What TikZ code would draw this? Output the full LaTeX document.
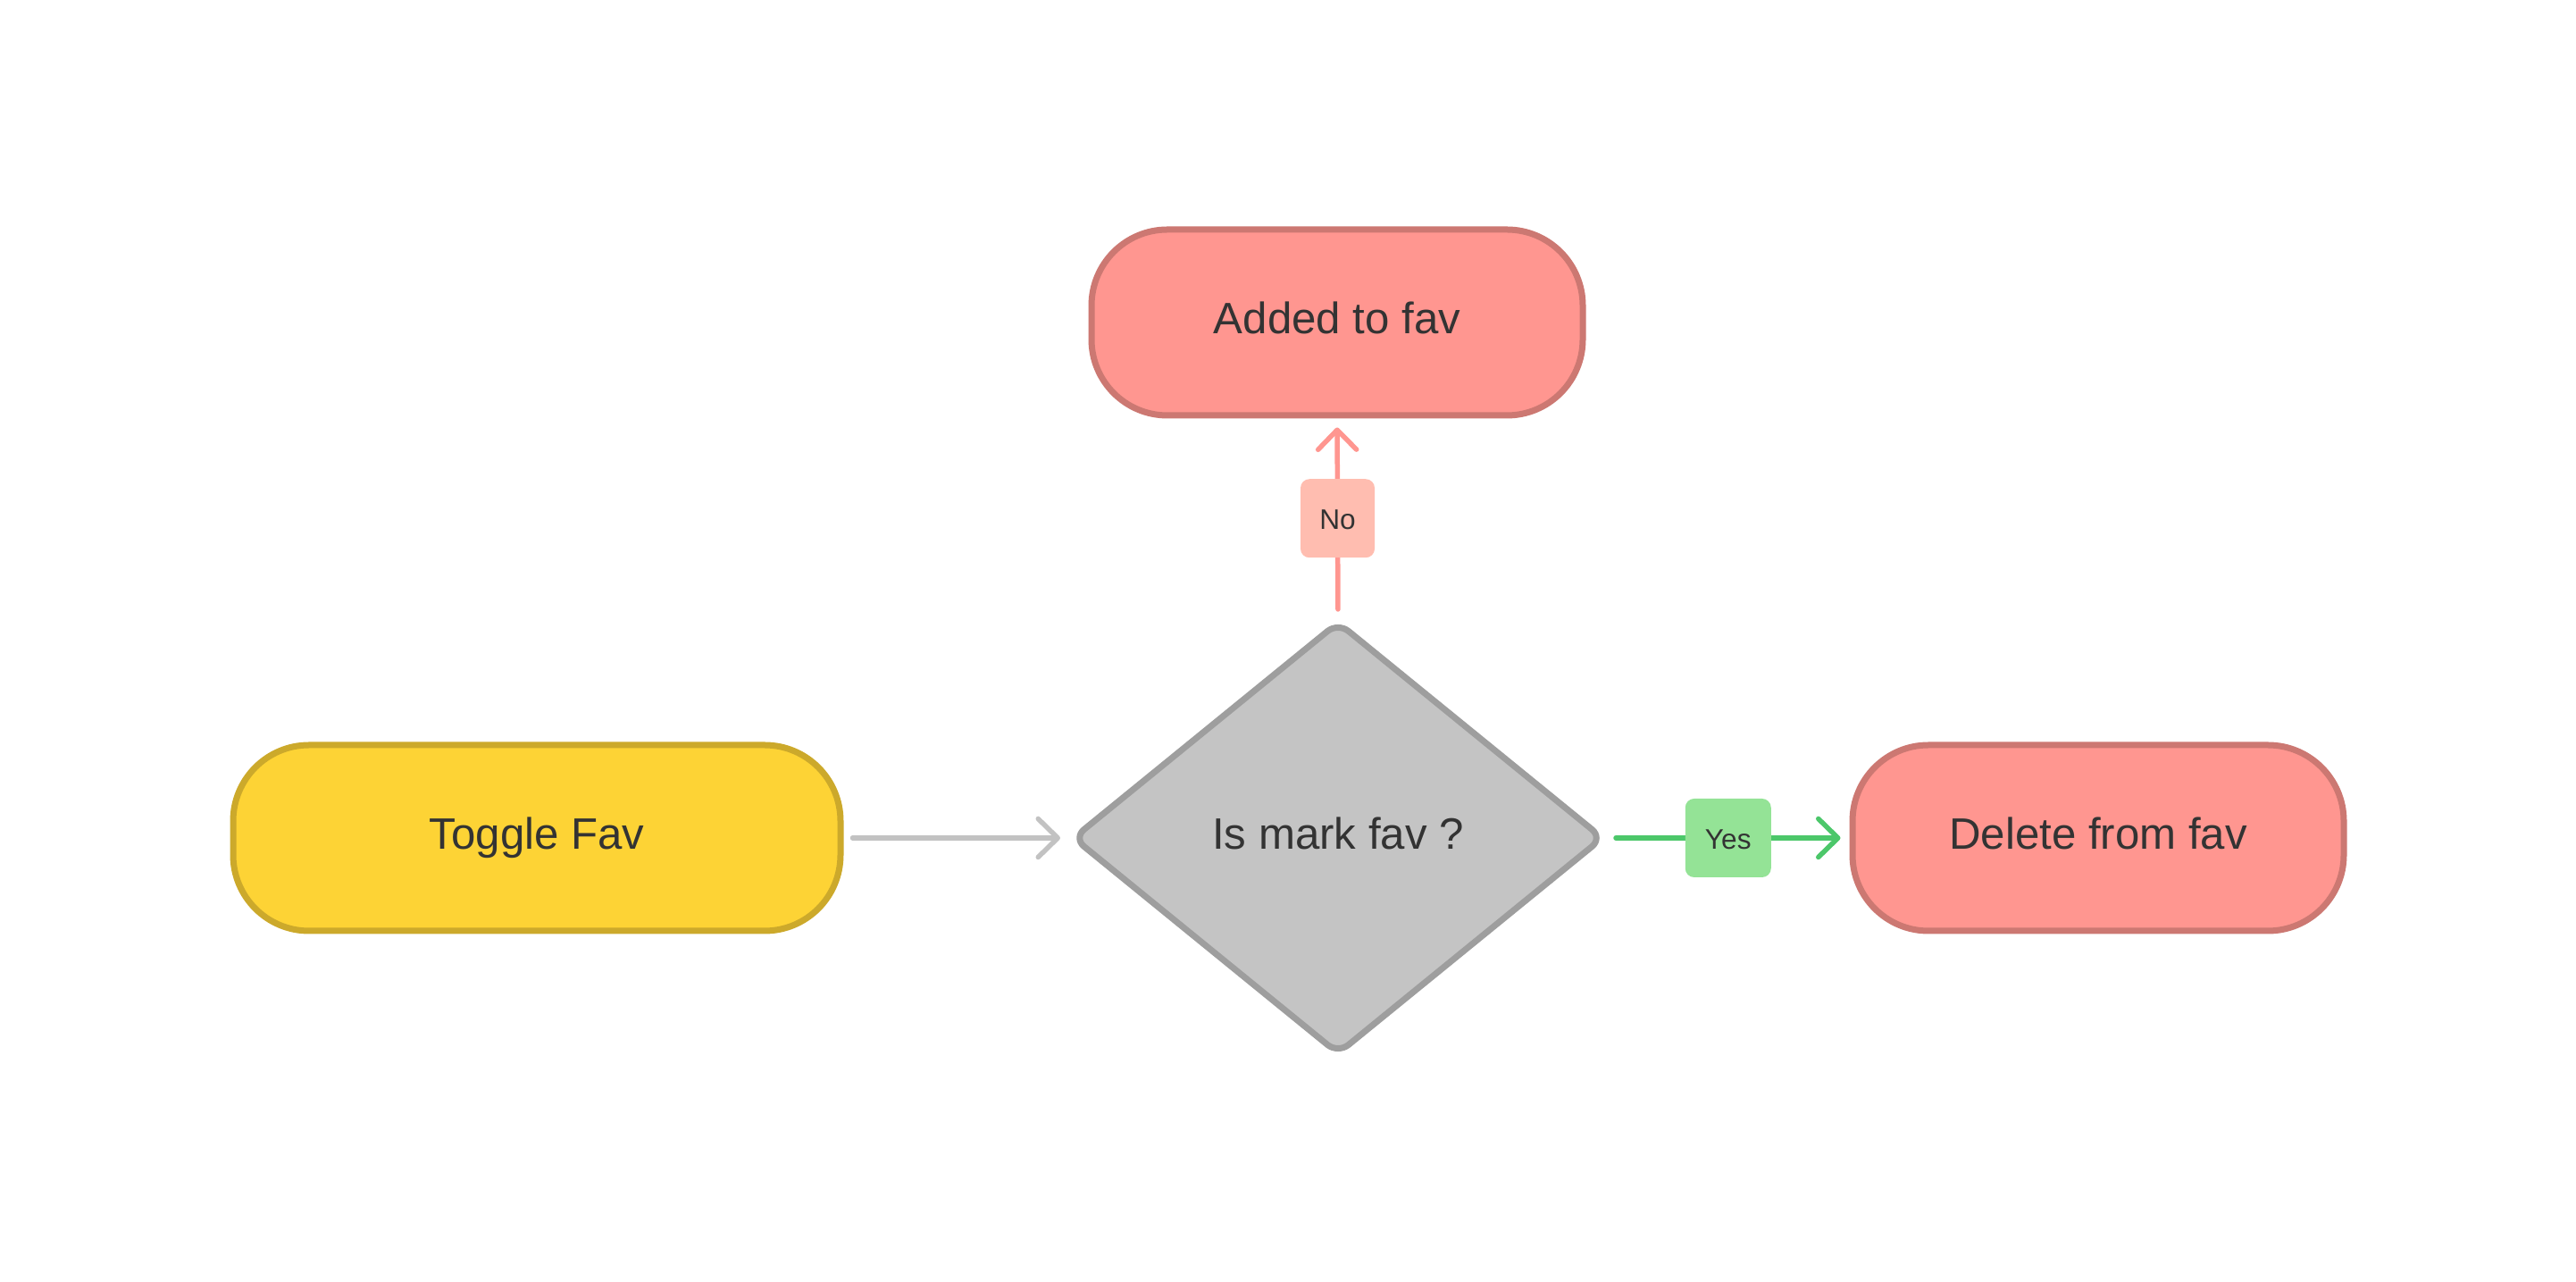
\documentclass[tikz,border=0pt]{standalone}
\usepackage{fontspec}
\setmainfont{Liberation Sans}
\usetikzlibrary{arrows.meta,shapes.geometric}
\usepackage{xcolor}

\definecolor{favyellow}{HTML}{FDD335}
\definecolor{favyellowline}{HTML}{CCA92B}
\definecolor{favred}{HTML}{FF9690}
\definecolor{favredline}{HTML}{CC7872}
\definecolor{decgray}{HTML}{C4C4C4}
\definecolor{decgrayline}{HTML}{9E9E9E}
\definecolor{nofill}{HTML}{FFBDB0}
\definecolor{noline}{HTML}{FF9690}
\definecolor{yesfill}{HTML}{94E396}
\definecolor{yesline}{HTML}{4CC76A}
\definecolor{arrowgray}{HTML}{C2C2C2}
\definecolor{inktext}{HTML}{333333}

\tikzset{
  termbox/.style={rectangle, rounded corners=0.85cm, line width=0.07cm,
    minimum height=2.08cm, text=inktext, text height=0.716em, text depth=0pt,
    font=\fontsize{14}{16}\selectfont},
  decbox/.style={diamond, aspect=1.226, rounded corners=0.15cm, line width=0.07cm,
    minimum width=5.95cm, minimum height=4.85cm, inner sep=0pt,
    fill=decgray, draw=decgrayline, text=inktext, text height=0.716em, text depth=0pt,
    font=\fontsize{14}{16}\selectfont},
  tagbox/.style={rectangle, rounded corners=0.1cm, minimum height=0.88cm,
    inner sep=0pt, text=inktext, text height=0.716em, text depth=0pt,
    font=\fontsize{9}{11}\selectfont},
  flow/.style={line width=0.055cm, line cap=round,
    -{Straight Barb[length=0.22cm, width=0.43cm, line cap=round, line join=round]},
    shorten <=0.1cm, shorten >=0.1cm}
}

\begin{document}
\begin{tikzpicture}
    \newcommand\rowy{4.97}

    \useasboundingbox (0,0) rectangle (28.84,14.35);

    % boxes
    \node[termbox, minimum width=6.8cm, fill=favyellow, draw=favyellowline] (toggle) at (6.01,\rowy) {Toggle Fav};
    \node[decbox] (decide) at (14.98,\rowy) {Is mark fav ?};
    \node[termbox, minimum width=5.5cm, fill=favred, draw=favredline] (added) at (14.97,10.74) {Added to fav};
    \node[termbox, minimum width=5.5cm, fill=favred, draw=favredline] (delete) at (23.49,\rowy) {Delete from fav};

    % draw arrows
    \draw[flow, arrowgray] (toggle.east) -- (decide.west);
    \draw[flow, noline] (decide.north) -- node[tagbox, minimum width=0.83cm, fill=nofill] (no) {No} (added.south);
    \draw[flow, yesline] (decide.east) -- node[tagbox, minimum width=0.96cm, fill=yesfill] (yes) {Yes} (delete.west);
\end{tikzpicture}
\end{document}
